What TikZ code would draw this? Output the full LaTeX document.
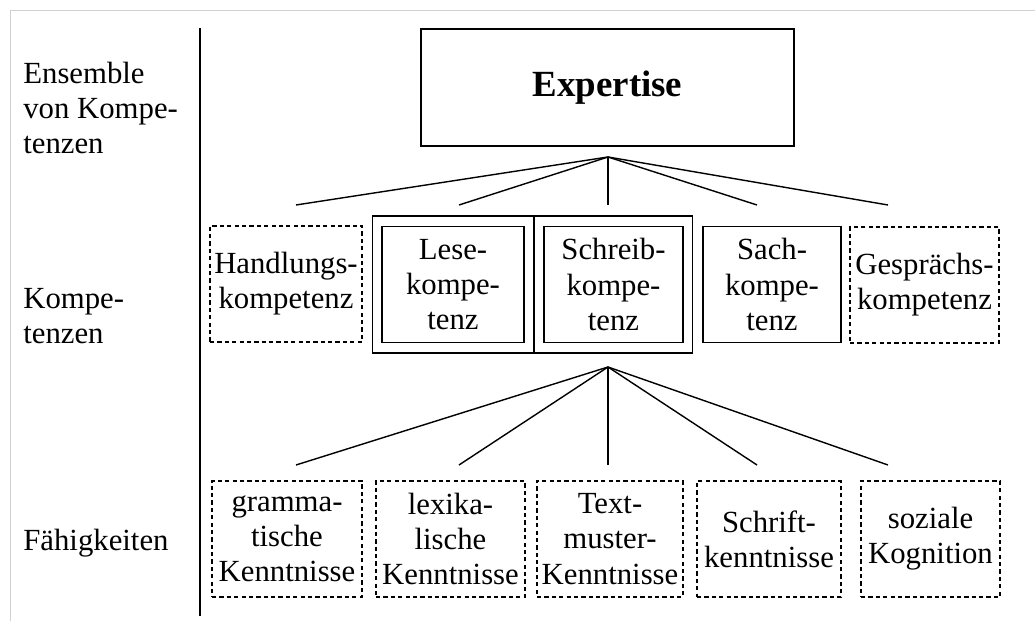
\documentclass[tikz,border=0pt]{standalone}
\usepackage{fontspec}
\setmainfont{Liberation Serif}
\usetikzlibrary{fit}

\tikzset{
	txt/.style={font=\fontsize{17.5}{20}\selectfont, align=center, inner sep=0pt},
	solidbox/.style={txt, draw, line width=.8pt, minimum height=2.32cm},
	dashbox/.style={txt, draw, line width=.8pt, dash pattern=on 2.4pt off 1.8pt, minimum height=2.32cm},
	fan/.style={line width=.8pt},
	sidelabel/.style={txt, align=left, anchor=west}
}

\begin{document}
\begin{tikzpicture}[x=.02cm, y=-.02cm]
	\useasboundingbox (0,0) rectangle (1035,621);
	% faint scan border
	\draw[gray!35, line width=.5pt] (10,10) -- (1035,10);
	\draw[gray!35, line width=.5pt] (10,10) -- (10,621);
	
	\node[sidelabel] (lblens) at (23,108) {Ensemble\\von Kompe-\\tenzen};
	\node[sidelabel] (lblkomp) at (23,316) {Kompe-\\tenzen};
	\node[sidelabel] (lblfaeh) at (23,543) {Fähigkeiten};
	\draw[line width=.8pt] (200,28) -- (200,616);
	
	\node[solidbox, minimum width=7.46cm, minimum height=2.34cm, font=\fontsize{21}{24}\selectfont\bfseries] (exp) at (607.5,87.5) {Expertise};
	
	\node[dashbox, minimum width=3.04cm] (hand) at (286,284) {Handlungs-\\kompetenz};
	\node[solidbox, minimum width=2.84cm] (lese) at (453,284.5) {Lese-\\kompe-\\tenz};
	\node[solidbox, minimum width=2.78cm] (schreib) at (613.5,284.5) {Schreib-\\kompe-\\tenz};
	\node[solidbox, minimum width=2.76cm] (sach) at (772,284.5) {Sach-\\kompe-\\tenz};
	\node[dashbox, minimum width=2.98cm] (gespr) at (924.5,285) {Gesprächs-\\kompetenz};
	\node[draw, line width=.8pt, inner xsep=.18cm, inner ysep=.2cm, fit=(lese)(schreib)] (frame) {};
	\draw[line width=.8pt] (534,217) -- (534,352);
	
	\node[dashbox, minimum width=3.0cm] (gramm) at (287,539) {gramma-\\tische\\Kenntnisse};
	\node[dashbox, minimum width=2.98cm] (lex) at (450.5,539) {lexika-\\lische\\Kenntnisse};
	\node[dashbox, minimum width=2.92cm] (textm) at (610,539) {Text-\\muster-\\Kenntnisse};
	\node[dashbox, minimum width=2.88cm] (schrift) at (769,539) {Schrift-\\kenntnisse};
	\node[dashbox, minimum width=2.78cm] (soz) at (930.5,539) {soziale\\Kognition};
	
	\coordinate (topapex) at (608,157);
	\coordinate (botapex) at (608,367);
	\foreach \ex [count=\i] in {296,459,608,757,888} {
		\coordinate (t\i) at (\ex,205);
		\coordinate (b\i) at (\ex,465);
		\draw[fan] (topapex) -- (t\i);
		\draw[fan] (botapex) -- (b\i);
	}
\end{tikzpicture}
\end{document}
